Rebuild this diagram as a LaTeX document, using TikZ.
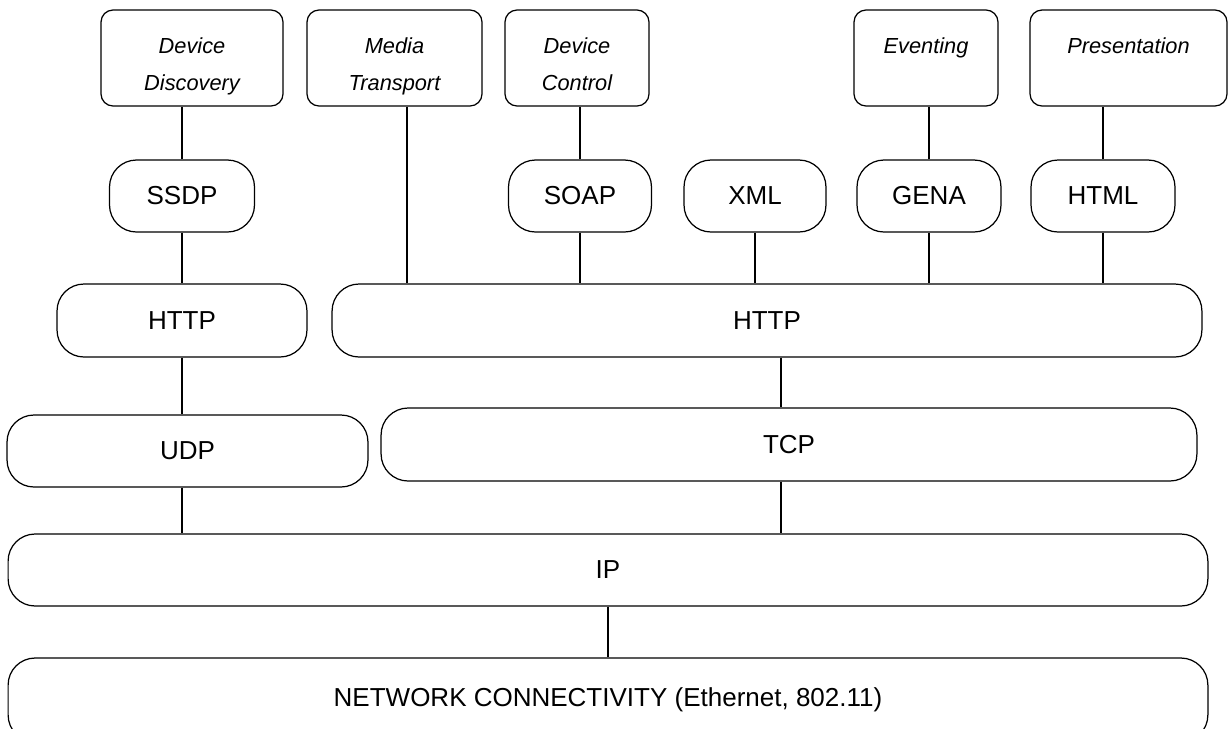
\documentclass[tikz,border=0pt]{standalone}
\usepackage{fontspec}
\setmainfont{Liberation Sans}
\usetikzlibrary{positioning}
\tikzset{
  layer/.style={draw, line width=0.7pt, rounded corners=0.54cm, inner sep=0pt,
    minimum height=1.44cm, font=\fontsize{14.8}{18}\selectfont},
  service/.style={draw, line width=0.7pt, rounded corners=0.24cm, inner sep=0pt,
    minimum height=1.92cm},
  caption/.style={inner sep=0pt, align=center, font=\fontsize{12.4}{21}\selectfont\itshape},
  link/.style={line width=0.7pt}
}
\begin{document}
\begin{tikzpicture}[x=0.02cm,y=-0.02cm]
    \useasboundingbox (0,0) rectangle (1228,728);
    % services on top
    \node[service, minimum width=3.64cm] (dd) at (192,58) {};
    \node[service, minimum width=3.5cm] (mt) at (394.5,58) {};
    \node[service, minimum width=2.88cm] (dc) at (577,58) {};
    \node[service, minimum width=2.88cm] (ev) at (926,58) {};
    \node[service, minimum width=3.94cm] (pr) at (1128.5,58) {};
    \node[caption, below=0.56cm of dd.north] (ddtext) {Device\\Discovery};
    \node[caption, below=0.56cm of mt.north] (mttext) {Media\\Transport};
    \node[caption, below=0.56cm of dc.north] (dctext) {Device\\Control};
    \node[caption, below=0.56cm of ev.north] (evtext) {Eventing};
    \node[caption, below=0.56cm of pr.north] (prtext) {Presentation};
    % protocols
    \node[layer, minimum width=2.9cm] (ssdp) at (182,196) {SSDP};
    \node[layer, minimum width=2.86cm] (soap) at (580,196) {SOAP};
    \node[layer, minimum width=2.84cm] (xml) at (755,196) {XML};
    \node[layer, minimum width=2.88cm] (gena) at (929,196) {GENA};
    \node[layer, minimum width=2.88cm] (html) at (1103,196) {HTML};
    \node[layer, minimum width=5cm, minimum height=1.46cm] (httpl) at (182,320.5) {HTTP};
    \node[layer, minimum width=17.4cm, minimum height=1.46cm] (httpr) at (767,320.5) {HTTP};
    \node[layer, minimum width=7.22cm] (udp) at (187.5,451) {UDP};
    \node[layer, minimum width=16.32cm, minimum height=1.46cm] (tcp) at (789,444.5) {TCP};
    \node[layer, minimum width=24cm] (ip) at (608,570) {IP};
    \node[layer, minimum width=24cm, minimum height=1.68cm] (net) at (608,700) {NETWORK CONNECTIVITY (Ethernet, 802.11)};
    % links
    \coordinate (mtlink) at (407,0);
    \coordinate (tcplink) at (781,0);
    \draw[link] (ssdp.north) -- (ssdp.north |- dd.south);
    \draw[link] (mtlink |- mt.south) -- (mtlink |- httpr.north);
    \draw[link] (soap.north) -- (soap.north |- dc.south);
    \draw[link] (gena.north) -- (gena.north |- ev.south);
    \draw[link] (html.north) -- (html.north |- pr.south);
    \foreach \p in {soap,xml,gena,html}
        \draw[link] (\p.south) -- (\p.south |- httpr.north);
    \draw[link] (ssdp) -- (httpl);
    \draw[link] (httpl.south) -- (httpl.south |- udp.north);
    \draw[link] (tcplink |- httpr.south) -- (tcplink |- tcp.north);
    \draw[link] (udp.south -| httpl) -- (ip.north -| httpl);
    \draw[link] (tcplink |- tcp.south) -- (tcplink |- ip.north);
    \draw[link] (ip) -- (net);
\end{tikzpicture}
\end{document}
